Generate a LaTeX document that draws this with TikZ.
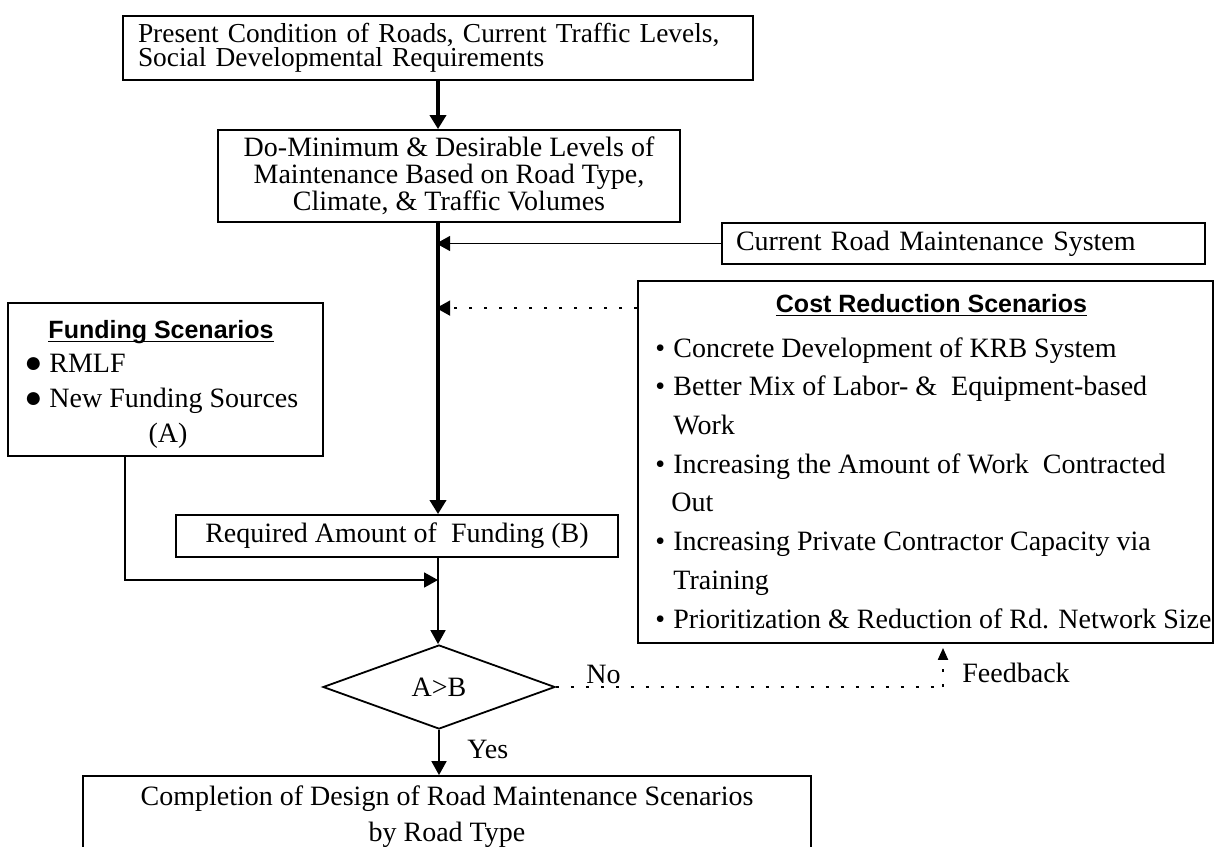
\documentclass[tikz,border=0pt]{standalone}
\usepackage{fontspec}
\setmainfont{Liberation Serif}
\setsansfont{Liberation Sans}
\usetikzlibrary{arrows.meta,shapes.geometric}

\newcommand\ttl[1]{{\sffamily\bfseries\fontsize{12.5}{15}\selectfont
  \setbox0\hbox{#1}\rlap{\rule[-2pt]{\wd0}{0.7pt}}\box0}}
\newcommand\cbul{\makebox[9pt][l]{\textbullet}}
\newcommand\fbul{\makebox[12.5pt][l]{\fontsize{15}{15}\selectfont ●}}
\newcommand\tightfont{\fontsize{13.7}{12.2}\selectfont\lineskiplimit=-10pt\relax}

\tikzset{
  box/.style={draw, line width=0.9pt, inner sep=0pt, font=\fontsize{14}{17}\selectfont},
  lbl/.style={inner sep=0pt, font=\fontsize{14}{17}\selectfont},
  flow/.style={line width=0.9pt, -{Triangle[length=7pt,width=7.5pt]}},
  trunk/.style={line width=1.8pt, -{Triangle[length=7pt,width=8pt]}},
  dots/.style={line width=1pt, dash pattern=on 1.5pt off 6pt}
}

\begin{document}
\begin{tikzpicture}[x=0.5pt,y=-0.5pt]
\path[use as bounding box, fill=white] (0,0) rectangle (1215,846);
\coordinate (spine) at (438,0);

% main column
\node[box, minimum width=315pt, minimum height=32pt, text width=300pt, inner xsep=7.5pt,
  align=left, font={\tightfont}] (cond) at (438,48)
  {Present Condition of Roads, Current Traffic Levels,\\Social Developmental Requirements};
\node[box, minimum width=231pt, minimum height=46pt, align=center,
  font=\fontsize{14}{13.5}\selectfont] (levels) at (449,176)
  {Do-Minimum \& Desirable Levels of\\Maintenance Based on Road Type,\\Climate, \& Traffic Volumes};
\node[box, minimum width=221pt, minimum height=21pt] (req) at (397,536)
  {Required Amount of \ Funding (B)};
\node[box, shape=diamond, minimum width=116pt, minimum height=42pt] (ab) at (439,687) {A>B};
\node[box, minimum width=364pt, minimum height=41pt, align=center,
  font=\fontsize{14}{18}\selectfont] (done) at (447,817)
  {Completion of Design of Road Maintenance Scenarios\\by Road Type};

% side boxes
\node[box, minimum width=241.5pt, minimum height=20.5pt, text width=227.5pt, inner xsep=7pt,
  align=left] (curr) at (963.5,243.5) {Current Road Maintenance System};

\node[box, minimum width=287.5pt, minimum height=181pt] (cost) at (925.5,462) {};
\node[lbl, anchor=base] (costttl) at (931.5,312) {\ttl{Cost Reduction Scenarios}};
\node[lbl, anchor=base west, align=left, font=\fontsize{14}{19.35}\selectfont] (costlist) at (655,628)
  {\cbul Concrete Development of KRB System\\
   \cbul Better Mix of Labor- \& \ Equipment-based\\
   \hspace*{9pt}Work\\
   \cbul Increasing the Amount of Work \ Contracted\\
   \hspace*{8pt}Out\\
   \cbul Increasing Private Contractor Capacity via\\
   \hspace*{9pt}Training\\
   \cbul Prioritization \& Reduction of Rd. Network Size};

\node[box, minimum width=157.5pt, minimum height=76.5pt] (fund) at (165.5,379.5) {};
\node[lbl, anchor=base] (fundttl) at (161,338) {\ttl{Funding Scenarios}};
\node[lbl, anchor=base west, align=left, font=\fontsize{14}{17.25}\selectfont] (fundlist) at (24,407)
  {\fbul RMLF\\\fbul New Funding Sources};
\node[lbl, anchor=base] (funda) at (168,442) {(A)};

% connectors
\draw[trunk] (spine |- cond.south) -- (spine |- levels.north);
\draw[trunk] (spine |- levels.south) -- (spine |- req.north);
\draw[flow, shorten >=-0.9pt] (curr.west) -- (curr.west -| spine);
\coordinate (costin) at ([yshift=-14pt]cost.north west);
\draw[dots, shorten >=-0.9pt, -{Triangle[length=7pt,width=7.5pt]}] (costin) -- (costin -| spine);

\coordinate (join) at (438,580);
\draw[flow] ([xshift=-20.25pt]fund.south) |- (join);
\draw[flow] (spine |- req.south) -- (spine |- ab.north);
\draw[flow] (ab.south) -- (ab.south |- done.north);
\node[lbl, anchor=base west] (yes) at (467,758) {Yes};

\coordinate (fbk) at (943,687);
\draw[dots] (ab.east) -- (fbk);
\draw[dots, shorten >=2pt, -{Triangle[length=6pt,width=5pt]}] (fbk) -- (fbk |- cost.south);
\node[lbl, anchor=base west] (no) at (586,683) {No};
\node[lbl, anchor=base west] (fbtxt) at (962,682) {Feedback};

\end{tikzpicture}
\end{document}
